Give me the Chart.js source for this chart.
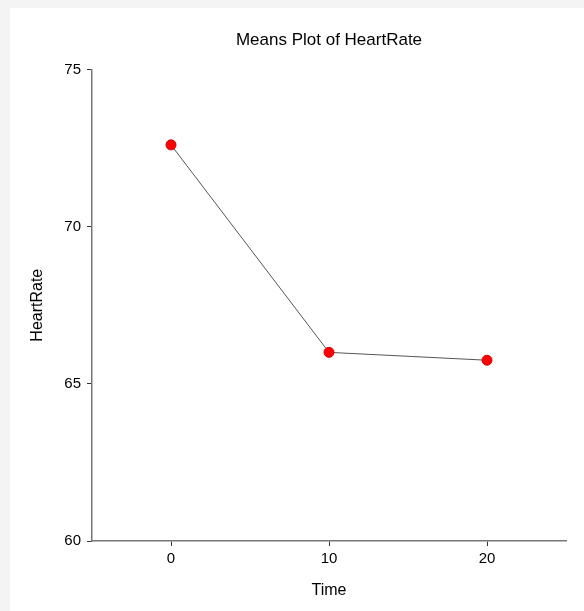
<!DOCTYPE html>
<html>
<head>
<meta charset="utf-8">
<title>Means Plot of HeartRate</title>
<script src="https://cdn.jsdelivr.net/npm/chart.js@4"></script>
<style>
  html, body { margin: 0; padding: 0; background: #f4f4f4; }
  #panel { position: absolute; left: 10px; top: 8px; width: 574px; height: 603px; background: #fff; }
  canvas { display: block; }
</style>
</head>
<body>
<div id="panel"><canvas id="myCanvas" width="574" height="603"></canvas></div>
<script>
'use strict';

// chart data
const times = [0, 10, 20];
const heartRateMeans = [72.6, 66.0, 65.75];
const xTicks = [0, 10, 20];
const yTicks = [60, 65, 70, 75];

const fontFamily = '"Liberation Sans", Arial, sans-serif';

let points = [];
for (let i = 0; i < times.length; i++) {
  points.push({ x: times[i], y: heartRateMeans[i] });
}

const config = {
  type: 'line',
  data: {
    datasets: [{
      label: 'HeartRate',
      data: points,
      borderColor: '#555555',
      borderWidth: 1,
      pointRadius: 5,
      pointBackgroundColor: '#ff0000',
      pointBorderColor: '#d40000',
      pointBorderWidth: 1,
      tension: 0,
      fill: false
    }]
  },
  options: {
    responsive: false,
    animation: false,
    layout: { padding: { left: 0, right: 18, top: 0, bottom: 0 } },
    plugins: {
      legend: { display: false },
      tooltip: { enabled: false },
      title: {
        display: true,
        text: 'Means Plot of HeartRate',
        fullSize: false,
        color: '#000',
        font: { family: fontFamily, size: 17, weight: 'normal' },
        padding: { top: 22, bottom: 19 }
      }
    },
    scales: {
      x: {
        type: 'linear',
        min: -5,
        max: 25,
        afterBuildTicks: (axis) => { axis.ticks = xTicks.map(v => ({ value: v })); },
        afterFit: (scale) => { scale.height = 70; },
        border: { display: true, color: '#777', width: 1.5 },
        grid: { drawOnChartArea: false, drawTicks: true, tickLength: 5, color: '#333', tickColor: '#333' },
        ticks: { color: '#000', padding: 4, font: { family: fontFamily, size: 15 } },
        title: {
          display: true,
          text: 'Time',
          color: '#000',
          font: { family: fontFamily, size: 16 },
          padding: { top: 0, bottom: 11 }
        }
      },
      y: {
        type: 'linear',
        min: 60,
        max: 75,
        afterBuildTicks: (axis) => { axis.ticks = yTicks.map(v => ({ value: v })); },
        afterFit: (scale) => { scale.width = 82; },
        border: { display: true, color: '#777', width: 1.5 },
        grid: { drawOnChartArea: false, drawTicks: true, tickLength: 5, color: '#333', tickColor: '#333' },
        ticks: { color: '#000', padding: 6, font: { family: fontFamily, size: 15 } },
        title: {
          display: true,
          text: 'HeartRate',
          color: '#000',
          font: { family: fontFamily, size: 16 },
          padding: { top: 18, bottom: 0 }
        }
      }
    }
  }
};

const chart = document.getElementById('myCanvas');
const myChart = new Chart(chart, config);
</script>
</body>
</html>
